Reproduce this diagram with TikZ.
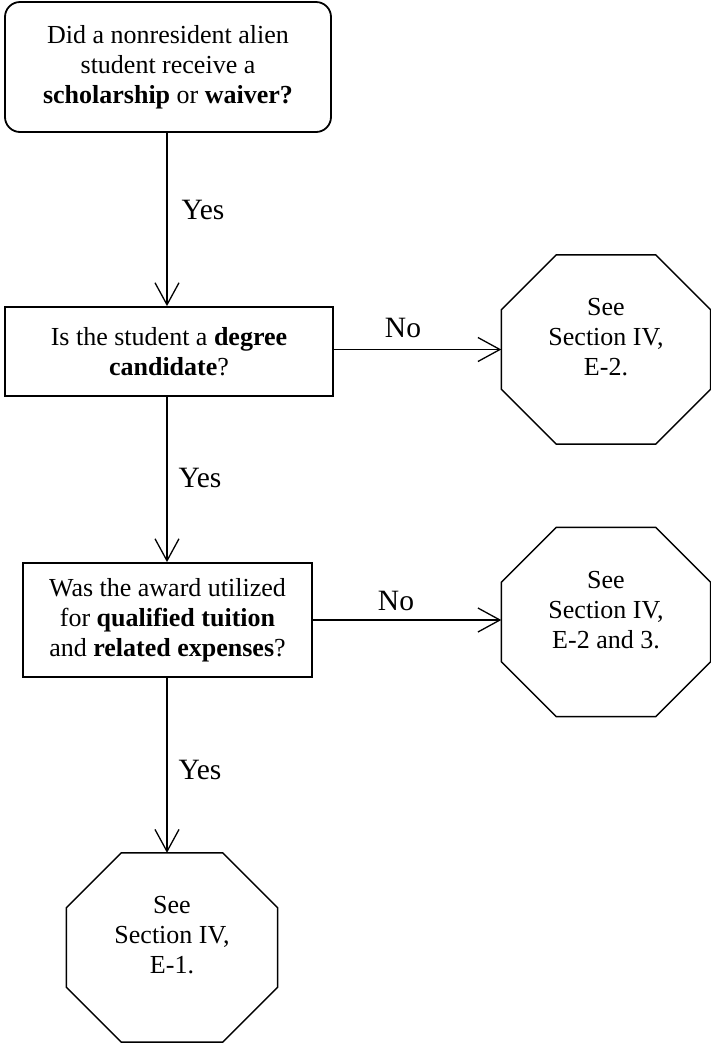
\documentclass[tikz,border=0pt]{standalone}
\usepackage{fontspec}
\setmainfont{Liberation Serif}
\usetikzlibrary{arrows.meta}
\newcommand{\octoutline}[1]{%
  \draw[octline] ([xshift=55pt]#1.north west) -- ([xshift=-55pt]#1.north east)
    -- ([yshift=-55pt]#1.north east) -- ([yshift=55pt]#1.south east)
    -- ([xshift=-55pt]#1.south east) -- ([xshift=55pt]#1.south west)
    -- ([yshift=55pt]#1.south west) -- ([yshift=-55pt]#1.north west) -- cycle;}
\begin{document}
\begin{tikzpicture}[x=1pt,y=1pt,
  boxtext/.style={font=\fontsize{26}{30}\selectfont, align=center},
  qbox/.style={boxtext, draw, line width=1.8pt, inner sep=0pt},
  octa/.style={rectangle, minimum width=209pt, minimum height=189pt, inner sep=0pt},
  octtext/.style={boxtext, inner sep=0pt},
  octline/.style={line width=1.5pt},
  lbl/.style={font=\fontsize{29.5}{32}\selectfont},
  conn/.style={line width=1.3pt, -{Straight Barb[length=22pt,width=24pt,line width=1.3pt]}}
]
\useasboundingbox (0,0) rectangle (711,-1045);
\node[qbox, rounded corners=15pt, minimum width=326pt, minimum height=130pt] (q1) at (168,-67)
  {Did a nonresident alien\\student receive a\\\textbf{scholarship} or \textbf{waiver?}};
\node[qbox, minimum width=328pt, minimum height=89pt] (q2) at (169,-351.5)
  {Is the student a \textbf{degree}\\\textbf{candidate}?};
\node[qbox, minimum width=289pt, minimum height=114pt] (q3) at (167.5,-620)
  {Was the award utilized\\for \textbf{qualified tuition}\\and \textbf{related expenses}?};
\node[octa] (o1) at (606,-349.5) {};
\node[octa] (o2) at (606,-622) {};
\node[octa, minimum width=211pt] (o3) at (172,-947.5) {};
\octoutline{o1}
\octoutline{o2}
\octoutline{o3}
\node[octtext] (o1t) at ([yshift=12pt]o1.center) {See\\Section IV,\\E-2.};
\node[octtext] (o2t) at ([yshift=12pt]o2.center) {See\\Section IV,\\E-2 and 3.};
\node[octtext] (o3t) at ([yshift=12pt]o3.center) {See\\Section IV,\\E-1.};
\coordinate (t1) at (167,-132);
\coordinate (t2) at (167,-396);
\coordinate (t3) at (167,-677);
\draw[conn] (t1) -- (t1 |- q2.north);
\draw[conn] (t2) -- (t2 |- q3.north);
\draw[conn] (t3) -- (t3 |- o3.north);
\draw[conn] (q2.east |- o1.west) -- (o1.west);
\draw[conn] (q3.east) -- (q3.east -| o2.west);
\node[lbl] (y1) at (203,-210) {Yes};
\node[lbl] (y2) at (200,-478) {Yes};
\node[lbl] (y3) at (200,-770) {Yes};
\node[lbl] (n1) at (403,-328) {No};
\node[lbl] (n2) at (396,-601) {No};
\end{tikzpicture}
\end{document}
